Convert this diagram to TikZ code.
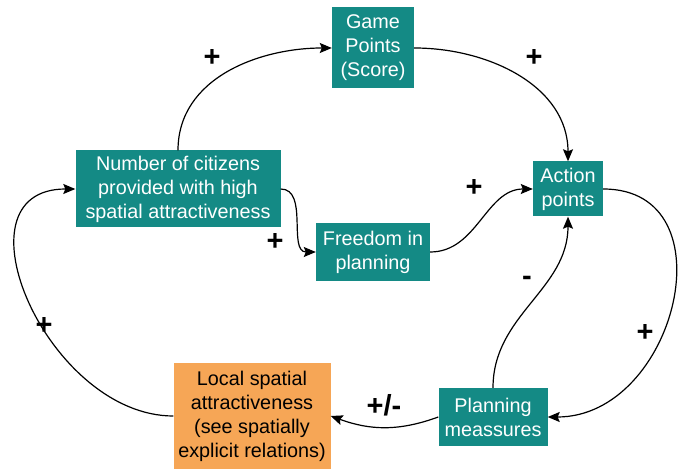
\documentclass[tikz,border=0pt]{standalone}
\usepackage{fontspec}
\setmainfont{Liberation Sans}
\usetikzlibrary{arrows.meta}
\definecolor{boxteal}{RGB}{20,138,133}
\definecolor{boxorange}{RGB}{246,166,86}

\begin{document}
\begin{tikzpicture}[x=1pt,y=1pt]
    \tikzstyle{every node}=[font=\fontsize{19.8}{24}\selectfont]
    \tikzstyle{var}=[rectangle, fill=boxteal, text=white, align=center, inner sep=0pt]
    \tikzstyle{ext}=[var, fill=boxorange, text=black]
    \tikzstyle{link}=[-{Stealth[length=12pt,width=10pt,inset=2pt]}, line width=1.2pt]
    \tikzstyle{sign}=[font=\fontsize{29}{29}\selectfont\bfseries, inner sep=0pt]
    \useasboundingbox (0,0) rectangle (684,471);
    % variables
    \node[var, minimum width=82pt, minimum height=81pt] (game) at (373,423) {Game\\Points\\(Score)};
    \node[var, minimum width=205pt, minimum height=77pt] (num) at (178,282) {Number of citizens\\provided with high\\spatial attractiveness};
    \node[var, minimum width=114pt, minimum height=58pt] (free) at (373,219) {Freedom in\\planning};
    \node[var, minimum width=70pt, minimum height=55pt] (action) at (568,282) {Action\\points};
    \node[var, minimum width=109pt, minimum height=58pt] (plan) at (493,54) {Planning\\meassures};
    \node[ext, minimum width=157pt, minimum height=106pt] (local) at (252,55) {Local spatial\\attractiveness\\(see spatially\\explicit relations)};
    % links
    \draw[link] (num.north) to[out=90,in=180] (game.west);
    \draw[link] (game.east) to[out=0,in=90] (action.north);
    \draw[link] (num.east) to[out=0,in=180] (free.west);
    \draw[link] (free.east) to[out=0,in=180] (action.west);
    \draw[link] (action.east) to[out=0,in=0,looseness=1.4] (plan.east);
    \draw[link] (plan.north) to[out=90,in=-90] (action.south);
    \draw[link] (plan.west) to[out=200,in=-20] (local.east);
    \draw[link] (local.west) to[out=180,in=180,looseness=1.3] (num.west);
    % polarities
    \node[sign] (s1) at (212,413) {+};
    \node[sign] (s2) at (534,413) {+};
    \node[sign] (s3) at (474,283) {+};
    \node[sign] (s4) at (275,229) {+};
    \node[sign] (s5) at (527,190) {-};
    \node[sign] (s6) at (44,145) {+};
    \node[sign] (s7) at (645,138) {+};
    \node[sign] (s8) at (384,66) {+/-};
\end{tikzpicture}
\end{document}
